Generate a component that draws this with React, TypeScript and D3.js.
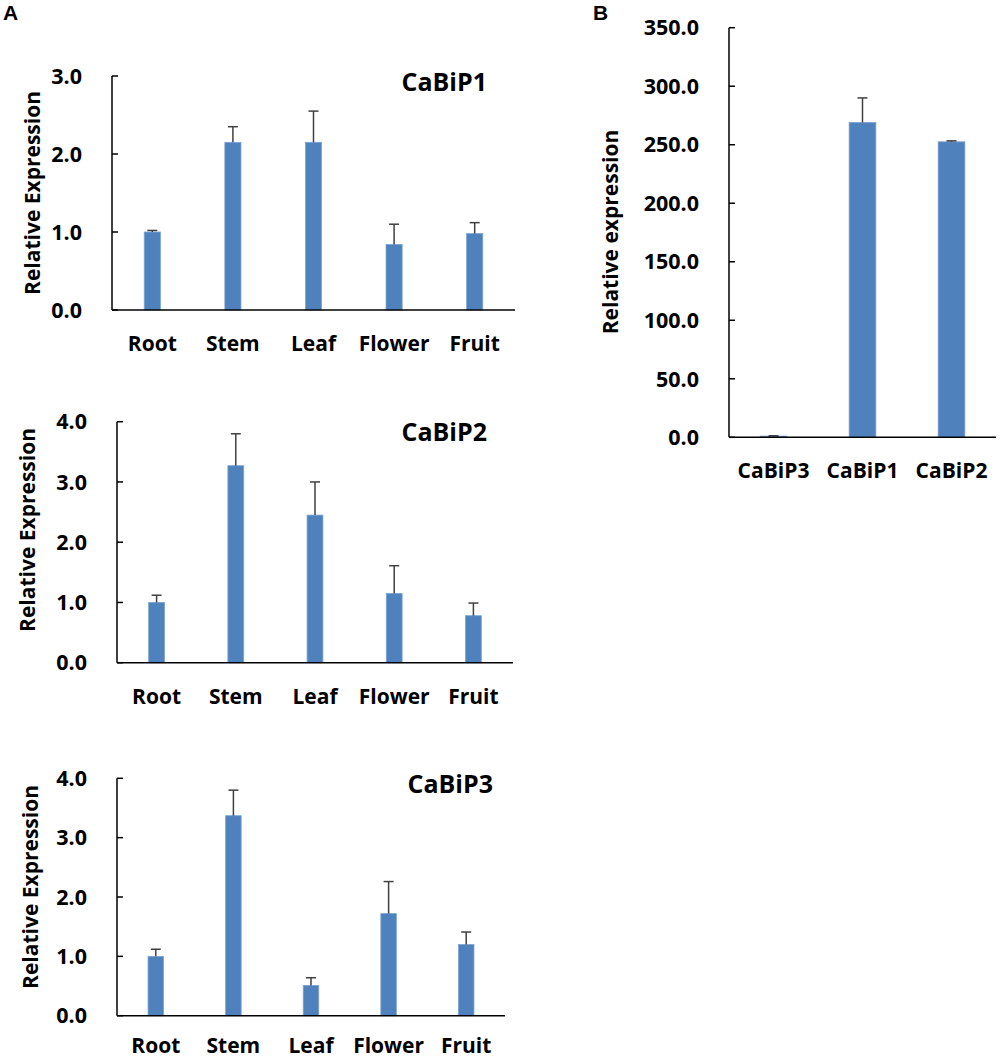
import React from "react";
import * as d3 from "d3";

const tissues = ["Root", "Stem", "Leaf", "Flower", "Fruit"];
const cabip1Values = [1.0, 2.15, 2.15, 0.84, 0.98];
const cabip1Errors = [0.02, 0.2, 0.4, 0.26, 0.14];
const cabip2Values = [1.0, 3.27, 2.45, 1.15, 0.78];
const cabip2Errors = [0.12, 0.53, 0.55, 0.46, 0.21];
const cabip3Values = [1.0, 3.37, 0.51, 1.72, 1.2];
const cabip3Errors = [0.12, 0.43, 0.13, 0.54, 0.21];
const genes = ["CaBiP3", "CaBiP1", "CaBiP2"];
const geneValues = [1.0, 269, 252.5];
const geneErrors = [0.3, 21, 0.8];
const ticksA1 = [0, 1, 2, 3];
const ticksA2 = [0, 1, 2, 3, 4];
const ticksA3 = [0, 1, 2, 3, 4];
const ticksB = [0, 50, 100, 150, 200, 250, 300, 350];

const FONT = "'Open Sans', sans-serif";
const BAR = "#4F81BD";
const ERR = "#404040";

type PanelProps = {
  cats: string[];
  values: number[];
  errors: number[];
  ticks: number[];
  x0: number;
  x1: number;
  yTop: number;
  y0: number;
  barFrac: number;
  title?: string;
  titleX?: number;
  titleY?: number;
  xLabelY: number;
  yLabel: string;
  yLabelX: number;
  yLabelY: number;
};

function Panel(p: PanelProps) {
  const x = d3.scaleBand<string>().domain(p.cats).range([p.x0, p.x1]);
  const y = d3
    .scaleLinear()
    .domain([0, p.ticks[p.ticks.length - 1]])
    .range([p.y0, p.yTop]);
  const fmt = d3.format(".1f");
  const bw = x.bandwidth() * p.barFrac;
  const capW = 5;
  return (
    <g>
      {p.cats.map((c, i) => {
        const cx = (x(c) as number) + x.bandwidth() / 2;
        const top = y(p.values[i]);
        const et = y(p.values[i] + p.errors[i]);
        return (
          <g key={c}>
            <rect
              x={cx - bw / 2}
              y={top}
              width={bw}
              height={p.y0 - top}
              fill={BAR}
              stroke="#7aa3d4"
              strokeWidth={0.8}
            />
            <line x1={cx} x2={cx} y1={top} y2={et} stroke={ERR} strokeWidth={1.5} />
            <line x1={cx - capW} x2={cx + capW} y1={et} y2={et} stroke={ERR} strokeWidth={1.5} />
            <text
              x={cx}
              y={p.xLabelY}
              textAnchor="middle"
              fontFamily={FONT}
              fontWeight={700}
              fontSize={21}
              fill="#000"
            >
              {c}
            </text>
          </g>
        );
      })}
      <line x1={p.x0} x2={p.x0} y1={p.yTop} y2={p.y0} stroke="#000" strokeWidth={1.5} />
      <line x1={p.x0} x2={p.x1} y1={p.y0} y2={p.y0} stroke="#000" strokeWidth={1.5} />
      {p.ticks.map((t) => (
        <g key={t}>
          <line x1={p.x0} x2={p.x0 + 6} y1={y(t)} y2={y(t)} stroke="#000" strokeWidth={1.5} />
          <text
            x={p.x0 - 30}
            y={y(t)}
            dy="0.36em"
            textAnchor="end"
            fontFamily={FONT}
            fontWeight={700}
            fontSize={21.5}
            fill="#000"
          >
            {fmt(t)}
          </text>
        </g>
      ))}
      {p.title && (
        <text
          x={p.titleX}
          y={p.titleY}
          textAnchor="end"
          fontFamily={FONT}
          fontWeight={700}
          fontSize={25}
          fill="#000"
        >
          {p.title}
        </text>
      )}
      <text
        transform={`translate(${p.yLabelX},${p.yLabelY}) rotate(-90)`}
        textAnchor="middle"
        dominantBaseline="central"
        fontFamily={FONT}
        fontWeight={700}
        fontSize={21}
        fill="#000"
      >
        {p.yLabel}
      </text>
    </g>
  );
}

export default function App() {
  return (
    <svg
      width={1000}
      height={1060}
      style={{ position: "absolute", left: 0, top: 0, background: "#fff" }}
    >
      <rect x={0} y={0} width={1000} height={1060} fill="#fff" />
      <text x={3} y={20} fontFamily="'Liberation Sans', Arial, sans-serif" fontWeight={700} fontSize={21}>
        A
      </text>
      <text x={593} y={20} fontFamily="'Liberation Sans', Arial, sans-serif" fontWeight={700} fontSize={21}>
        B
      </text>
      <Panel
        cats={tissues}
        values={cabip1Values}
        errors={cabip1Errors}
        ticks={ticksA1}
        x0={112}
        x1={515}
        yTop={76}
        y0={310}
        barFrac={0.2}
        title="CaBiP1"
        titleX={487}
        titleY={91}
        xLabelY={351}
        yLabel="Relative Expression"
        yLabelX={32}
        yLabelY={193}
      />
      <Panel
        cats={tissues}
        values={cabip2Values}
        errors={cabip2Errors}
        ticks={ticksA2}
        x0={117}
        x1={513}
        yTop={421.7}
        y0={662.7}
        barFrac={0.2}
        title="CaBiP2"
        titleX={487}
        titleY={441}
        xLabelY={704}
        yLabel="Relative Expression"
        yLabelX={27}
        yLabelY={530}
      />
      <Panel
        cats={tissues}
        values={cabip3Values}
        errors={cabip3Errors}
        ticks={ticksA3}
        x0={117}
        x1={505}
        yTop={778.3}
        y0={1015.7}
        barFrac={0.2}
        title="CaBiP3"
        titleX={493}
        titleY={793}
        xLabelY={1053}
        yLabel="Relative Expression"
        yLabelX={30}
        yLabelY={887}
      />
      <Panel
        cats={genes}
        values={geneValues}
        errors={geneErrors}
        ticks={ticksB}
        x0={729}
        x1={996}
        yTop={27.7}
        y0={437.3}
        barFrac={0.3}
        xLabelY={478}
        yLabel="Relative expression"
        yLabelX={610}
        yLabelY={232}
      />
    </svg>
  );
}
